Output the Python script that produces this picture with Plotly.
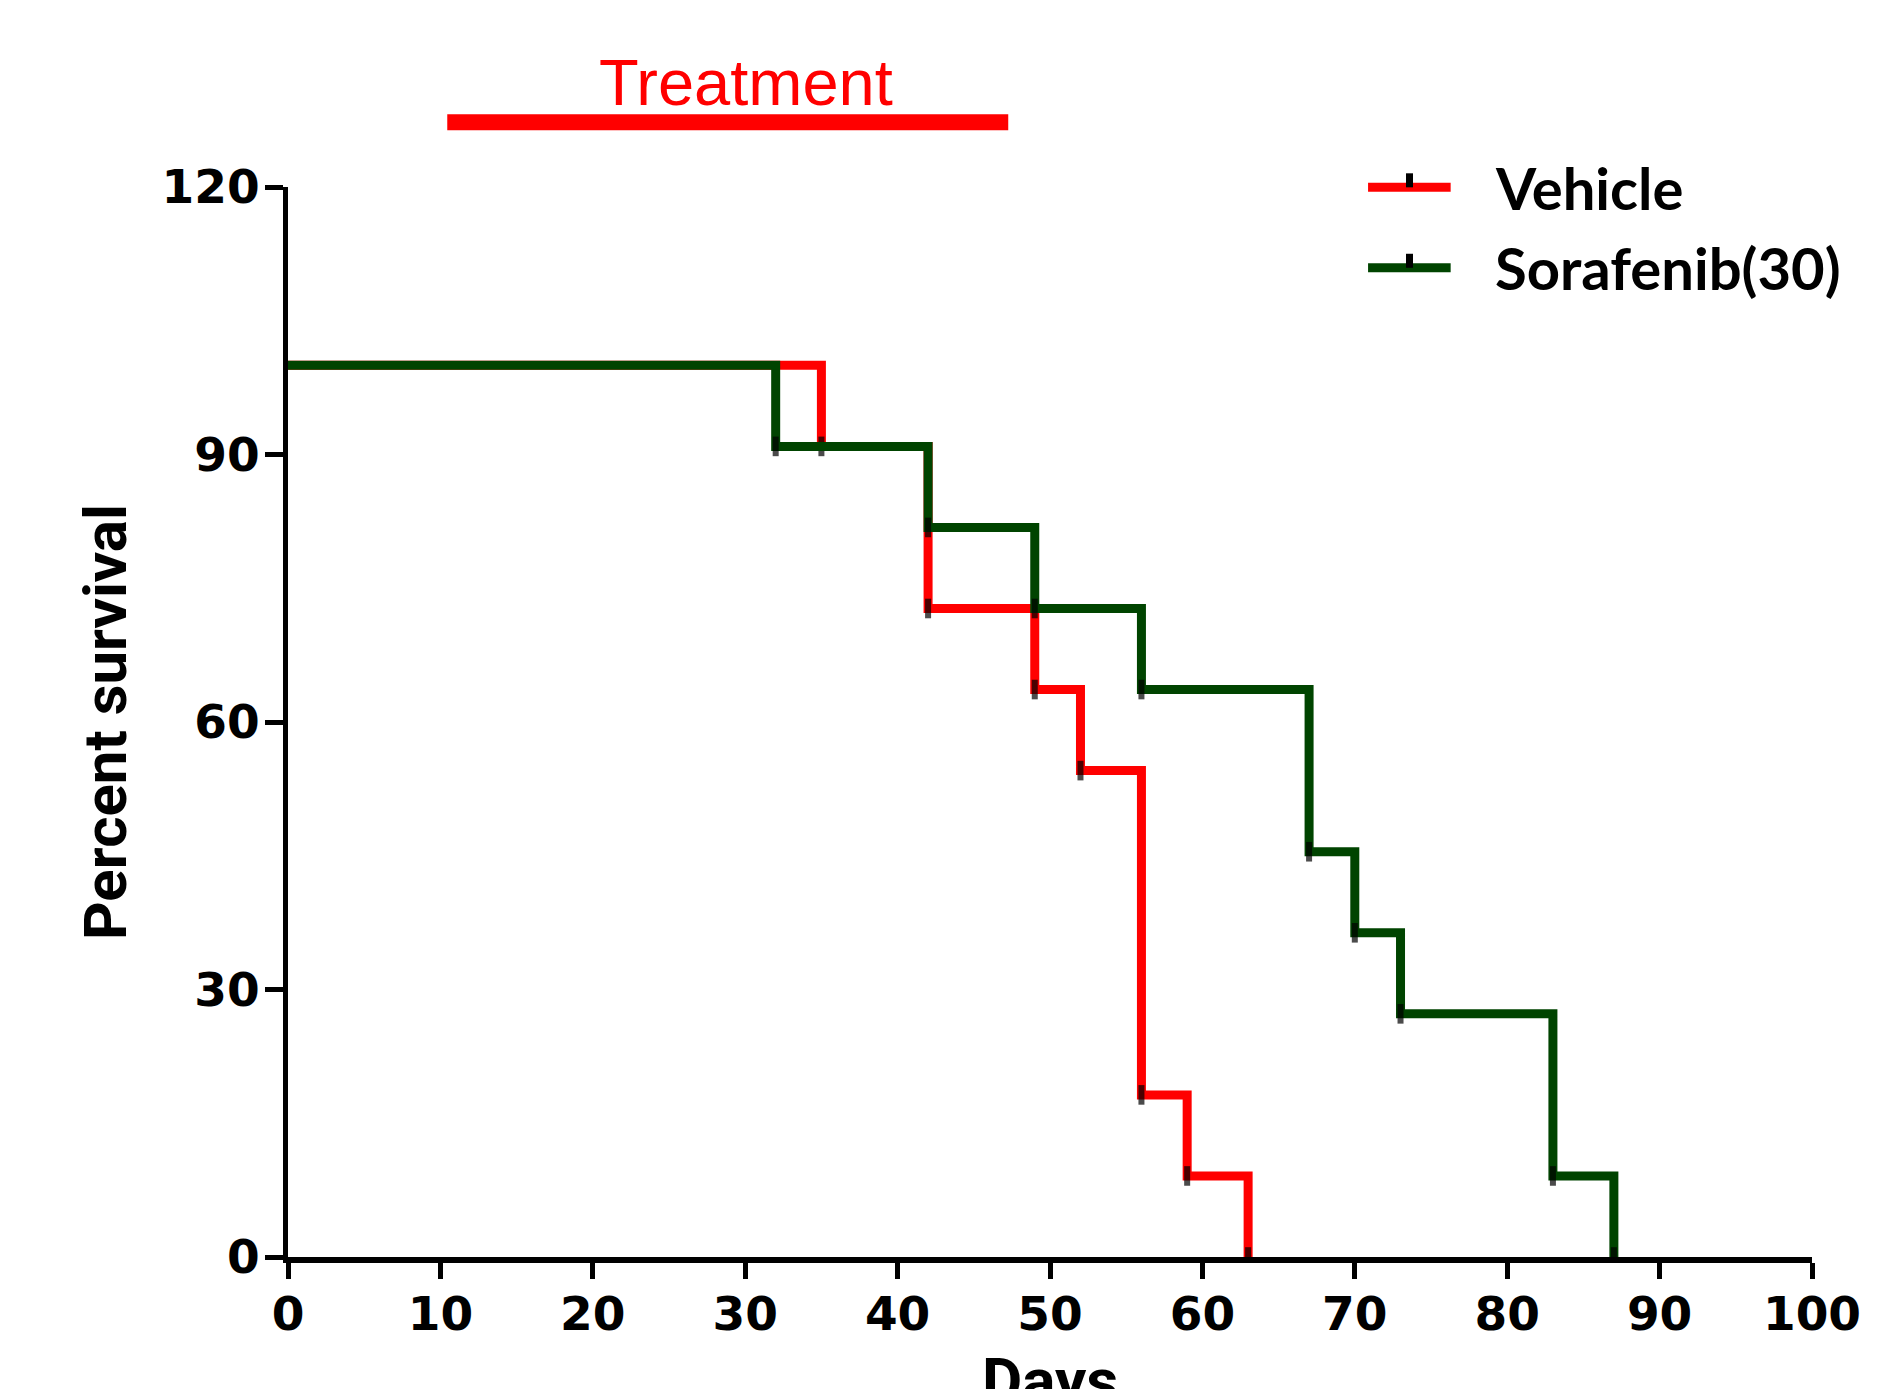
import plotly.graph_objects as go

# Kaplan-Meier steps (day, percent survival)
vehicle_days = [0, 35, 42, 49, 52, 56, 59, 63]
vehicle_surv = [100, 90.91, 72.73, 63.64, 54.55, 18.18, 9.09, 0]
sora_days = [0, 32, 42, 49, 56, 67, 70, 73, 83, 87]
sora_surv = [100, 90.91, 81.82, 72.73, 63.64, 45.45, 36.36, 27.27, 9.09, 0]
series_names = ["Vehicle", "Sorafenib(30)"]
series_colors = ["#FF0000", "#004400"]
treatment_days = [10.45, 47.26]
x_ticks = list(range(0, 101, 10))
y_ticks = [0, 30, 60, 90, 120]

# figure sized to fit inside the page's default 8px body margin
W, H = 1870, 1381
L, R, T, B = 280, 66, 179, 132

fig = go.Figure()
for name, xs, ys, col in zip(series_names, [vehicle_days, sora_days],
                             [vehicle_surv, sora_surv], series_colors):
    sizes = [0] + [14] * (len(xs) - 1)
    fig.add_trace(go.Scatter(
        x=xs, y=ys, name=name, mode="lines+markers", line_shape="hv",
        line=dict(color=col, width=9),
        marker=dict(symbol="line-ns", size=sizes, color="black",
                    line=dict(color="black", width=6)),
        showlegend=False,
    ))

# treatment bar and label
fig.add_shape(type="line", xref="x", yref="paper",
              x0=treatment_days[0], x1=treatment_days[1],
              y0=1.0605, y1=1.0605, line=dict(color="#FF0000", width=16))
fig.add_annotation(text="Treatment", xref="x", yref="paper",
                   x=30.05, y=1.062, yanchor="bottom", xanchor="center",
                   showarrow=False,
                   font=dict(family="Liberation Sans, Arial", size=65, color="#FF0000"))

# manual legend (long line sample with a black tick, as in the original)
legend_rows = [0.9997, 0.9245]
legend_text_y = [0.9992, 0.9250]
for name, col, ly, ty in zip(series_names, series_colors, legend_rows, legend_text_y):
    fig.add_shape(type="line", xref="paper", yref="paper",
                  x0=0.7087, x1=0.7629, y0=ly, y1=ly,
                  line=dict(color=col, width=9))
    fig.add_shape(type="line", xref="paper", yref="paper",
                  x0=0.7359, x1=0.7359, y0=ly, y1=ly + 0.0131,
                  line=dict(color="black", width=7))
    fig.add_annotation(text=f"<b>{name}</b>", xref="paper", yref="paper",
                       x=0.7904, y=ty, xanchor="left", yanchor="middle",
                       showarrow=False,
                       font=dict(family="Lato, Open Sans, sans-serif", size=58, color="black"))

title_font = dict(family="Roboto, Liberation Sans, Arial, sans-serif",
                  size=60, color="black")
fig.add_annotation(text="<b>Percent survival</b>", xref="paper", yref="paper",
                   x=-0.1201, y=0.5, xanchor="center", yanchor="middle",
                   textangle=-90, showarrow=False, font=title_font)
fig.add_annotation(text="<b>Days</b>", xref="paper", yref="paper",
                   x=0.5, y=-0.0796, xanchor="center", yanchor="top",
                   showarrow=False, font=dict(title_font, size=62))

tick_font = dict(family="DejaVu Sans", size=47, color="black", weight="bold")
fig.update_xaxes(range=[0, 100], tickvals=x_ticks, ticktext=[str(v) for v in x_ticks],
                 showline=True, linecolor="black", linewidth=6,
                 ticks="outside", ticklen=16, tickwidth=5, tickcolor="black",
                 ticklabelstandoff=-5,
                 showgrid=False, zeroline=False, tickfont=tick_font)
fig.update_yaxes(range=[0, 120], tickvals=y_ticks, ticktext=[str(v) for v in y_ticks],
                 showline=True, linecolor="black", linewidth=5,
                 ticks="outside", ticklen=18, tickwidth=5, tickcolor="black",
                 ticklabelstandoff=-4,
                 showgrid=False, zeroline=False, tickfont=tick_font)

fig.update_layout(
    width=W, height=H,
    margin=dict(l=L, r=R, t=T, b=B, autoexpand=False),
    paper_bgcolor="white", plot_bgcolor="white",
    showlegend=False,
)

fig.write_html("out.html")
